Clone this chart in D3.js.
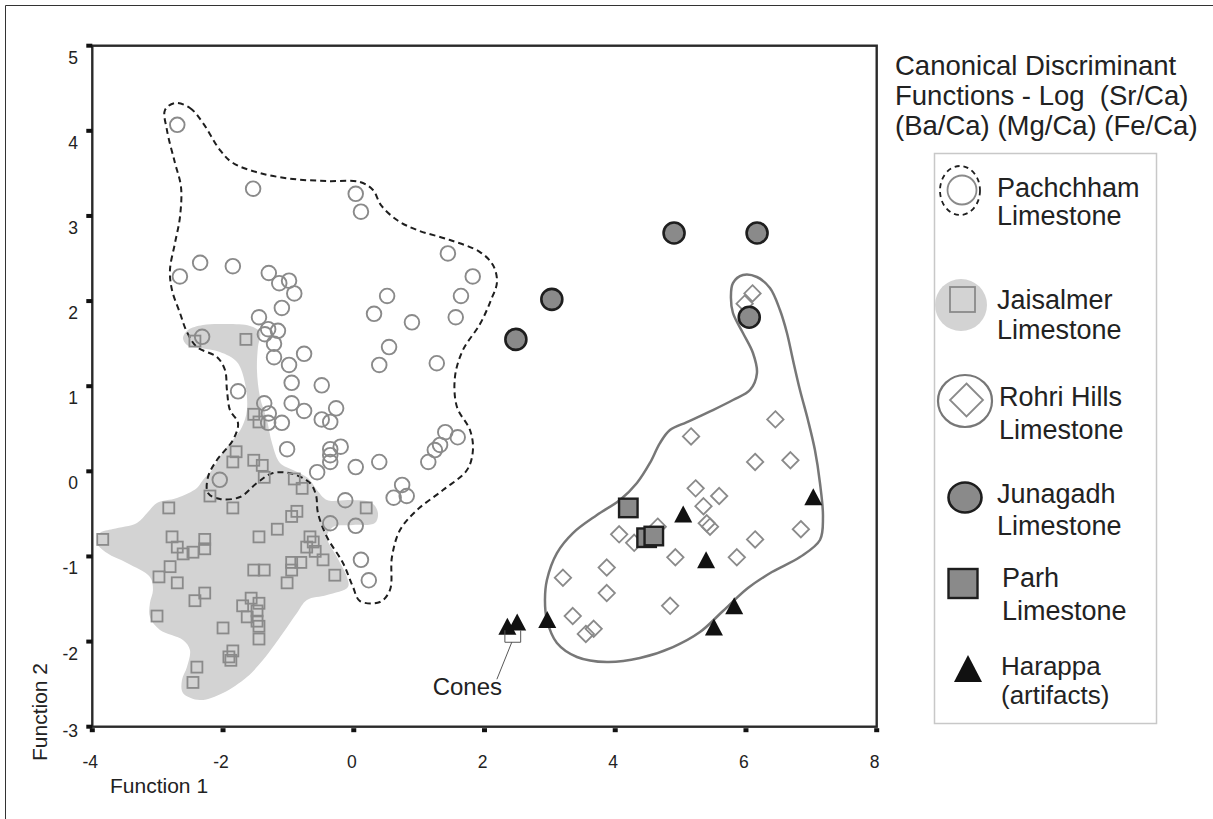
<!DOCTYPE html>
<html>
<head>
<meta charset="utf-8">
<script src="https://cdn.jsdelivr.net/npm/d3@7/dist/d3.min.js"></script>
<style>
  html, body { margin: 0; padding: 0; background: #fff; }
  svg { display: block; }
  text { font-family: "Liberation Sans", Arial, Helvetica, sans-serif; fill: #222; }
</style>
</head>
<body>
<svg id="chart" width="1213" height="819"></svg>
<script>
// Canonical discriminant scores (Function 1, Function 2) by limestone source
const pachchham = [
  [-2.70,4.07],[-1.54,3.32],[0.03,3.26],[0.11,3.05],[-2.66,2.29],[-2.35,2.45],[-1.85,2.41],
  [-1.30,2.33],[-1.14,2.21],[-0.99,2.24],[-0.91,2.09],[-1.10,1.92],[-1.45,1.81],[-1.31,1.67],
  [-1.16,1.65],[-1.36,1.61],[-1.22,1.50],[-1.22,1.34],[-2.32,1.58],[-0.76,1.38],[-0.99,1.25],
  [-0.95,1.04],[-1.77,0.94],[-0.49,1.01],[-0.95,0.80],[-1.37,0.80],[-0.76,0.71],[-1.30,0.68],
  [-1.10,0.57],[-1.31,0.57],[-0.49,0.61],[-0.27,0.74],[-0.36,0.58],[-1.02,0.26],[-0.36,0.26],
  [-0.20,0.29],[-0.36,0.11],[-0.36,0.19],[-0.56,-0.01],[-2.05,-0.10],[0.03,0.05],[0.39,0.11],
  [-0.13,-0.34],[-0.36,-0.61],[0.03,-0.64],[0.11,-1.04],[0.23,-1.28],[0.61,-0.31],[0.74,-0.16],
  [0.81,-0.29],[1.14,0.11],[1.24,0.25],[1.32,0.31],[1.40,0.46],[1.59,0.40],[0.31,1.85],
  [0.51,2.06],[0.89,1.75],[0.54,1.46],[0.39,1.25],[1.27,1.27],[1.44,2.56],[1.82,2.29],
  [1.64,2.06],[1.56,1.81]
];
const jaisalmer = [
  [-2.43,1.53],[-1.65,1.55],[-1.53,0.67],[-1.45,0.58],[-1.80,0.23],[-1.85,0.11],[-1.53,0.13],
  [-1.40,0.07],[-1.37,-0.07],[-0.91,-0.09],[-0.79,-0.20],[-2.20,-0.29],[-2.83,-0.43],[-1.85,-0.43],
  [0.19,-0.43],[-0.87,-0.47],[-0.95,-0.53],[-1.17,-0.68],[-1.45,-0.77],[-0.67,-0.77],[-0.62,-0.83],
  [-0.72,-0.89],[-0.59,-0.94],[-0.47,-1.04],[-0.29,-1.22],[-3.84,-0.80],[-2.78,-0.77],[-2.70,-0.89],
  [-2.61,-0.97],[-2.46,-0.95],[-2.28,-0.80],[-2.28,-0.91],[-2.81,-1.12],[-2.98,-1.24],[-2.70,-1.31],
  [-2.28,-1.43],[-2.43,-1.52],[-3.01,-1.70],[-2.00,-1.84],[-1.53,-1.16],[-1.37,-1.16],[-0.95,-1.07],
  [-0.81,-1.07],[-0.95,-1.16],[-1.02,-1.31],[-1.57,-1.49],[-1.45,-1.55],[-1.70,-1.58],[-1.48,-1.64],
  [-1.63,-1.71],[-1.48,-1.76],[-1.45,-1.82],[-1.45,-1.97],[-1.85,-2.11],[-1.91,-2.18],[-1.88,-2.22],
  [-2.40,-2.30],[-2.46,-2.48]
];
const rohri = [
  [6.10,2.09],[5.98,1.97],[6.45,0.61],[5.16,0.41],[6.14,0.11],[6.68,0.13],[5.23,-0.20],
  [5.59,-0.29],[5.35,-0.41],[5.40,-0.61],[5.45,-0.65],[4.65,-0.65],[4.06,-0.74],[4.29,-0.84],
  [4.92,-1.01],[5.86,-1.01],[6.14,-0.80],[6.84,-0.68],[3.87,-1.13],[3.20,-1.25],[3.87,-1.43],
  [4.84,-1.58],[3.35,-1.70],[3.67,-1.85],[3.55,-1.91]
];
const junagadh = [[4.90,2.80],[6.17,2.80],[3.03,2.02],[2.48,1.55],[6.05,1.81]];
const parh = [[4.20,-0.43],[4.48,-0.78],[4.59,-0.76]];
const harappa = [
  [2.35,-1.82],[2.50,-1.77],[2.96,-1.74],[5.04,-0.50],[5.39,-1.04],[5.82,-1.58],[5.51,-1.83],[7.03,-0.30]
];

// Group outlines
const pachchhamOutline = [
  [-2.735,4.327],[-2.506,4.268],[-2.307,4.092],[-2.047,3.774],[-1.848,3.622],[-1.435,3.504],
  [-0.930,3.434],[-0.410,3.410],[0.095,3.399],[0.294,3.305],[0.416,3.128],[0.661,2.952],
  [0.967,2.835],[1.472,2.717],[1.931,2.576],[2.129,2.423],[2.191,2.224],[2.099,2.012],
  [1.931,1.730],[1.670,1.425],[1.548,1.108],[1.579,0.755],[1.778,0.485],[1.823,0.250],
  [1.732,0.015],[1.365,-0.220],[0.967,-0.455],[0.707,-0.690],[0.584,-1.007],[0.554,-1.394],
  [0.401,-1.535],[0.095,-1.524],[-0.012,-1.359],[-0.165,-1.077],[-0.410,-0.772],[-0.548,-0.490],
  [-0.578,-0.278],[-0.670,-0.137],[-0.930,-0.032],[-1.236,-0.020],[-1.481,-0.137],[-1.741,-0.302],
  [-2.047,-0.325],[-2.230,-0.255],[-2.230,-0.067],[-2.093,0.133],[-1.848,0.368],[-1.771,0.567],
  [-1.894,0.720],[-1.940,0.955],[-1.970,1.190],[-2.093,1.343],[-2.399,1.460],[-2.552,1.636],
  [-2.659,1.860],[-2.781,2.130],[-2.812,2.365],[-2.735,2.682],[-2.659,2.987],[-2.643,3.340],
  [-2.735,3.622],[-2.858,4.009],[-2.888,4.244]
];
const jaisalmerOutline = [
  [-2.613,1.566],[-2.536,1.660],[-2.307,1.719],[-1.940,1.730],[-1.588,1.707],[-1.435,1.636],
  [-1.466,1.460],[-1.481,1.190],[-1.435,0.873],[-1.328,0.603],[-1.251,0.332],[-1.129,0.098],
  [-0.930,0.015],[-0.701,-0.079],[-0.563,-0.220],[-0.410,-0.337],[-0.058,-0.337],[0.278,-0.372],
  [0.370,-0.490],[0.324,-0.607],[-0.012,-0.631],[-0.318,-0.654],[-0.410,-0.772],[-0.257,-1.007],
  [-0.104,-1.242],[-0.089,-1.359],[-0.410,-1.453],[-0.716,-1.512],[-0.869,-1.665],[-1.083,-1.900],
  [-1.389,-2.217],[-1.634,-2.416],[-2.001,-2.604],[-2.353,-2.687],[-2.613,-2.604],[-2.628,-2.452],
  [-2.552,-2.299],[-2.506,-2.099],[-2.613,-1.982],[-2.965,-1.864],[-3.118,-1.712],[-3.118,-1.547],
  [-3.072,-1.394],[-3.118,-1.242],[-3.469,-1.077],[-3.775,-0.960],[-3.928,-0.842],[-3.883,-0.725],
  [-3.684,-0.678],[-3.317,-0.607],[-3.148,-0.478],[-3.011,-0.372],[-2.705,-0.314],[-2.399,-0.196],
  [-2.307,-0.102],[-2.169,0.015],[-2.001,0.227],[-1.848,0.368],[-1.710,0.520],[-1.634,0.720],
  [-1.664,1.037],[-1.787,1.284],[-2.047,1.401],[-2.353,1.448],[-2.552,1.484]
];
const rohriOutline = [
  [5.954,2.306],[6.168,2.283],[6.367,2.153],[6.520,1.895],[6.627,1.625],[6.719,1.307],
  [6.826,0.955],[6.948,0.603],[7.055,0.250],[7.132,-0.137],[7.178,-0.537],[7.132,-0.807],
  [6.826,-1.007],[6.397,-1.183],[6.030,-1.371],[5.648,-1.641],[5.296,-1.888],[4.883,-2.064],
  [4.378,-2.193],[3.873,-2.240],[3.414,-2.181],[3.108,-2.017],[2.955,-1.747],[2.925,-1.512],
  [2.955,-1.277],[3.108,-0.960],[3.353,-0.725],[3.720,-0.513],[4.072,-0.337],[4.332,-0.137],
  [4.531,0.098],[4.684,0.332],[4.837,0.485],[5.097,0.579],[5.495,0.720],[5.801,0.838],
  [6.061,0.955],[6.168,1.155],[6.107,1.390],[5.954,1.625],[5.801,1.860],[5.770,2.048],[5.801,2.212]
];

const xTicks = [-4, -2, 0, 2, 4, 6, 8];
const yTicks = [-3, -2, -1, 0, 1, 2, 3, 4, 5];
const xTitle = "Function 1";
const yTitle = "Function 2";
const titleLines = ["Canonical Discriminant", "Functions - Log  (Sr/Ca)", "(Ba/Ca) (Mg/Ca) (Fe/Ca)"];
const coneLabel = "Cones";

const svg = d3.select("#chart");
const x = d3.scaleLinear().domain([-4, 8]).range([92.3, 876.7]);
const y = d3.scaleLinear().domain([-3, 5]).range([726.7, 45.7]);

const GREY = "#8a8a8a";
const DARK = "#1e1e1e";

svg.append("rect").attr("width", 1213).attr("height", 819).attr("fill", "#fff");
// outer frame
svg.append("path").attr("d", "M5.5,819 V5.5 H1213").attr("fill", "none").attr("stroke", "#333").attr("stroke-width", 1);

const outline = d3.line().x(d => x(d[0])).y(d => y(d[1])).curve(d3.curveCatmullRomClosed.alpha(0.5));

// Jaisalmer shaded field
svg.append("path").attr("d", outline(jaisalmerOutline)).attr("fill", "#d3d3d3").attr("stroke", "none");
// Pachchham dashed field
svg.append("path").attr("d", outline(pachchhamOutline)).attr("fill", "none")
  .attr("stroke", DARK).attr("stroke-width", 2).attr("stroke-dasharray", "6,4");
// Rohri Hills field
svg.append("path").attr("d", outline(rohriOutline)).attr("fill", "none")
  .attr("stroke", "#777").attr("stroke-width", 2.5);

// frame / axes
const g = svg.append("g");
g.append("rect").attr("x", x(-4)).attr("y", y(5)).attr("width", x(8) - x(-4)).attr("height", y(-3) - y(5))
  .attr("fill", "none").attr("stroke", "#2a2a2a").attr("stroke-width", 2.4);
g.selectAll(".yt").data(yTicks).join("rect").attr("class", "yt")
  .attr("x", x(-4) - 6).attr("y", d => y(d) - 2).attr("width", 6).attr("height", 4).attr("fill", "#111");
g.selectAll(".xt").data(xTicks).join("rect").attr("class", "xt")
  .attr("x", d => x(d) - 2.5).attr("y", y(-3) + 1.5).attr("width", 5).attr("height", 4).attr("fill", "#111");
g.selectAll(".yl").data(yTicks).join("text").attr("class", "yl")
  .attr("x", 78).attr("y", d => Math.min(y(d) + 18, 737)).attr("text-anchor", "end")
  .attr("font-size", 17.5).text(d => String(d));
g.selectAll(".xl").data(xTicks).join("text").attr("class", "xl")
  .attr("x", d => x(d) - 2).attr("y", 768).attr("text-anchor", "middle")
  .attr("font-size", 17.5).text(d => String(d));
g.append("text").attr("x", 110).attr("y", 793).attr("font-size", 21).text(xTitle);
g.append("text").attr("transform", "translate(47,712) rotate(-90)").attr("text-anchor", "middle")
  .attr("font-size", 21).text(yTitle);

// markers
const sq = 11;
svg.append("g").selectAll("rect").data(jaisalmer).join("rect")
  .attr("x", d => x(d[0]) - sq / 2).attr("y", d => y(d[1]) - sq / 2).attr("width", sq).attr("height", sq)
  .attr("fill", "none").attr("stroke", GREY).attr("stroke-width", 1.8);

svg.append("g").selectAll("circle").data(pachchham).join("circle")
  .attr("cx", d => x(d[0])).attr("cy", d => y(d[1])).attr("r", 7.3)
  .attr("fill", "none").attr("stroke", GREY).attr("stroke-width", 1.9);

const dm = 8.2;
svg.append("g").selectAll("path").data(rohri).join("path")
  .attr("d", d => { const cx = x(d[0]), cy = y(d[1]);
    return `M${cx},${cy - dm}L${cx + dm},${cy}L${cx},${cy + dm}L${cx - dm},${cy}Z`; })
  .attr("fill", "none").attr("stroke", GREY).attr("stroke-width", 1.8);

svg.append("g").selectAll("circle").data(junagadh).join("circle")
  .attr("cx", d => x(d[0])).attr("cy", d => y(d[1])).attr("r", 10.5)
  .attr("fill", GREY).attr("stroke", DARK).attr("stroke-width", 2.6);

const ps = 18.5;
svg.append("g").selectAll("rect").data(parh).join("rect")
  .attr("x", d => x(d[0]) - ps / 2).attr("y", d => y(d[1]) - ps / 2).attr("width", ps).attr("height", ps)
  .attr("fill", GREY).attr("stroke", DARK).attr("stroke-width", 2.4);

const tw = 18, th = 17;
svg.append("g").selectAll("path").data(harappa).join("path")
  .attr("d", d => { const cx = x(d[0]), cy = y(d[1]);
    return `M${cx},${cy - th / 2}L${cx + tw / 2},${cy + th / 2}L${cx - tw / 2},${cy + th / 2}Z`; })
  .attr("fill", "#111");

// Cones callout under the first two artifact points
const c0 = harappa[0], c1 = harappa[1];
const bx0 = x(c0[0]) - 2.5, bx1 = x(c1[0]) + 3.5, btop = y(c0[1]) + 4, bbot = y(c0[1]) + 16;
svg.append("path").attr("d", `M${bx0},${btop}V${bbot}H${bx1}V${btop}`)
  .attr("fill", "none").attr("stroke", "#555").attr("stroke-width", 1);
svg.append("path").attr("d", `M${(bx0 + bx1) / 2 - 1},${bbot}L${bx0 - 8},${bbot + 37}`)
  .attr("fill", "none").attr("stroke", "#444").attr("stroke-width", 0.9);
svg.append("text").attr("x", 502).attr("y", 695).attr("text-anchor", "end").attr("font-size", 24).text(coneLabel);

// title
const title = svg.append("text").attr("font-size", 27.5).attr("xml:space", "preserve").style("white-space", "pre");
titleLines.forEach((t, i) => title.append("tspan").attr("x", 895).attr("y", 75 + i * 30).text(t));

// legend
const lg = svg.append("g");
lg.append("rect").attr("x", 934.5).attr("y", 153.5).attr("width", 222).attr("height", 570)
  .attr("fill", "none").attr("stroke", "#c8c8c8").attr("stroke-width", 1.5);

lg.append("ellipse").attr("cx", 960).attr("cy", 190.5).attr("rx", 20).attr("ry", 24.5)
  .attr("fill", "none").attr("stroke", DARK).attr("stroke-width", 1.8).attr("stroke-dasharray", "5,4");
lg.append("circle").attr("cx", 962).attr("cy", 190).attr("r", 14.5)
  .attr("fill", "none").attr("stroke", GREY).attr("stroke-width", 1.8);

lg.append("ellipse").attr("cx", 961).attr("cy", 305).attr("rx", 26).attr("ry", 26).attr("fill", "#d3d3d3");
lg.append("rect").attr("x", 950).attr("y", 287).attr("width", 25).attr("height", 25)
  .attr("fill", "none").attr("stroke", GREY).attr("stroke-width", 1.8);

lg.append("ellipse").attr("cx", 965).attr("cy", 401).attr("rx", 27).attr("ry", 26)
  .attr("fill", "none").attr("stroke", "#777").attr("stroke-width", 2.2);
lg.append("path").attr("d", "M966.5,383.5L983,400L966.5,416.5L950,400Z")
  .attr("fill", "none").attr("stroke", GREY).attr("stroke-width", 1.8);

lg.append("ellipse").attr("cx", 965).attr("cy", 497.5).attr("rx", 16.5).attr("ry", 15)
  .attr("fill", GREY).attr("stroke", DARK).attr("stroke-width", 2.6);

lg.append("rect").attr("x", 948.5).attr("y", 569).attr("width", 29).attr("height", 29)
  .attr("fill", GREY).attr("stroke", DARK).attr("stroke-width", 2.4);

lg.append("path").attr("d", "M968,655L982,682L954,682Z").attr("fill", "#111");

const legendText = [
  ["Pachchham", 997, 196.5, 27], ["Limestone", 997, 225, 27],
  ["Jaisalmer", 997, 309, 27], ["Limestone", 997, 339, 27],
  ["Rohri Hills", 999, 406, 27], ["Limestone", 999, 439, 27],
  ["Junagadh", 997, 503, 27], ["Limestone", 997, 535, 27],
  ["Parh", 1002, 587, 27], ["Limestone", 1002, 620, 27],
  ["Harappa", 1001, 675, 26], ["(artifacts)", 1001, 704, 26]
];
lg.selectAll(".lt").data(legendText).join("text").attr("class", "lt")
  .attr("x", d => d[1]).attr("y", d => d[2]).attr("font-size", d => d[3]).text(d => d[0]);
</script>
</body>
</html>
